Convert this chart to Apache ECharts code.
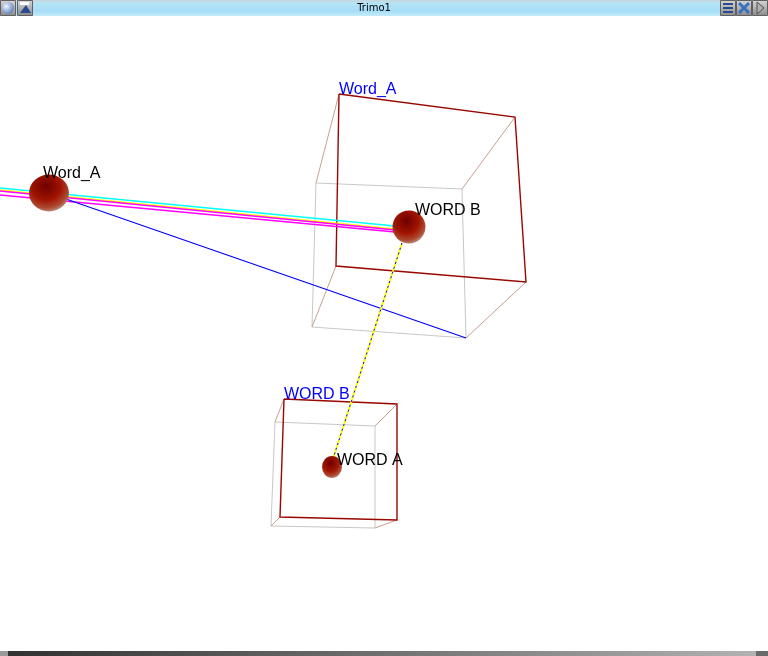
<!DOCTYPE html>
<html>
<head>
<meta charset="utf-8">
<script src="https://cdn.jsdelivr.net/npm/echarts@6/dist/echarts.min.js"></script>
<style>
  html, body { margin: 0; padding: 0; background: #fff; }
  #main { width: 768px; height: 656px; }
</style>
</head>
<body>
<div id="main"></div>
<script>
// scene projected to screen units (x right, y down)
const bigCubeBack = [[339, 94], [515, 117], [526, 282], [336, 266]];
const bigCubeFront = [[316, 183], [462, 189], [466, 338], [312, 327]];
const smallCubeBack = [[284, 399], [397, 404], [397, 520], [280, 517]];
const smallCubeFront = [[275, 422], [375, 426], [375, 528], [271, 526]];

const sphereNames = ['Word_A', 'WORD B', 'WORD A'];
const sphereX = [49, 409, 332];
const sphereY = [193, 227, 467];

const cubeNames = ['Word_A', 'WORD B'];

// links between the nodes
const linkCyan = [[0, 188], [395, 226]];
const linkYellow = [[0, 190], [395, 229]];
const linkMagenta1 = [[0, 191], [395, 230]];
const linkMagenta2 = [[0, 195], [395, 232]];
const linkBlue = [[66, 199], [466, 338]];
const linkDown = [[402, 243], [332, 462]];

const sphereStyle = [
  { size: [40, 37], offset: [-6, -19] },
  { size: [33, 33], offset: [6, -16] },
  { size: [20, 22], offset: [5, -6] }
];

const chart = echarts.init(document.getElementById('main'), null, { renderer: 'canvas' });

function loop(pts) {
  return { coords: pts.concat([pts[0]]) };
}
function connectors(back, front) {
  return back.map((p, i) => ({ coords: [p, front[i]] }));
}
function segLines(name, data, color, width, z, dash) {
  return {
    name: name,
    type: 'lines',
    coordinateSystem: 'cartesian2d',
    polyline: true,
    silent: true,
    z: z,
    lineStyle: { color: color, width: width, opacity: 1, type: dash || 'solid', cap: 'butt' },
    data: data
  };
}

const sphereGradient = new echarts.graphic.RadialGradient(0.42, 0.32, 0.75, [
  { offset: 0, color: '#6e0000' },
  { offset: 0.5, color: '#a01400' },
  { offset: 0.78, color: '#ad4a32' },
  { offset: 1, color: '#c4aca2' }
]);

const labelFont = {
  fontFamily: 'Liberation Sans, Arial, sans-serif',
  fontSize: 16,
  fontWeight: 'normal',
  textBorderWidth: 0,
  textShadowBlur: 0,
  opacity: 1
};

const series = [
  segLines('bigFront', [loop(bigCubeFront)], '#c8c8c8', 1, 1),
  segLines('smallFront', [loop(smallCubeFront)], '#c8c8c8', 1, 1),
  segLines('bigConn', connectors(bigCubeBack, bigCubeFront), '#c8a090', 1, 1),
  segLines('smallConn', connectors(smallCubeBack, smallCubeFront), '#c8a090', 1, 1),
  segLines('bigBack', [loop(bigCubeBack)], '#980800', 1.4, 2),
  segLines('smallBack', [loop(smallCubeBack)], '#980800', 1.4, 2),
  segLines('cyan', [{ coords: linkCyan }], '#00ffff', 1.6, 3),
  segLines('yellow', [{ coords: linkYellow }], '#ffff00', 1.6, 3),
  segLines('magenta1', [{ coords: linkMagenta1 }], '#ff00ff', 1.6, 3),
  segLines('magenta2', [{ coords: linkMagenta2 }], '#ff00ff', 1.6, 3),
  segLines('blue', [{ coords: linkBlue }], '#0000ff', 1.2, 3),
  segLines('down', [{ coords: linkDown }], '#ffff00', 2, 3),
  segLines('downDash', [{ coords: linkDown }], '#0000ff', 1, 4, [2, 3])
];

sphereNames.forEach((name, i) => {
  series.push({
    name: name,
    type: 'scatter',
    silent: true,
    z: 5,
    symbol: 'circle',
    symbolSize: sphereStyle[i].size,
    itemStyle: { color: sphereGradient, opacity: 1 },
    label: Object.assign({
      show: true,
      position: 'inside',
      align: 'left',
      verticalAlign: 'middle',
      offset: sphereStyle[i].offset,
      formatter: name,
      color: '#000000'
    }, labelFont),
    data: [[sphereX[i], sphereY[i]]]
  });
});

// blue cube labels sit at the back top-left corner
series.push({
  name: 'cubeLabels',
  type: 'scatter',
  silent: true,
  z: 6,
  symbolSize: 0,
  label: Object.assign({
    show: true,
    position: 'inside',
    align: 'left',
    verticalAlign: 'middle',
    offset: [0, -4],
    formatter: p => cubeNames[p.dataIndex],
    color: '#0000ff'
  }, labelFont),
  data: [bigCubeBack[0], smallCubeBack[0]]
});

// window frame decorations
function btn(x, children) {
  return {
    type: 'group', x: x, y: 0, silent: true, z: 12,
    children: [
      { type: 'rect', z: 12, shape: { x: 0.5, y: 0.5, width: 15, height: 15 },
        style: { fill: new echarts.graphic.LinearGradient(0, 0, 0, 1, [
          { offset: 0, color: '#d8d8d8' }, { offset: 1, color: '#8a8a8a' }]), stroke: '#606060', lineWidth: 1 } }
    ].concat(children.map(c => Object.assign({ z: 13 }, c)))
  };
}

const graphic = [
  { type: 'rect', silent: true, z: 10, shape: { x: 0, y: 0, width: 768, height: 16 },
    style: { fill: new echarts.graphic.LinearGradient(0, 0, 0, 1, [
      { offset: 0, color: '#c8d4dc' }, { offset: 0.2, color: '#b4e4f6' },
      { offset: 0.7, color: '#a6def6' }, { offset: 1, color: '#c4ecfa' }]) } },
  btn(0, [
    { type: 'circle', shape: { cx: 8, cy: 8, r: 6 },
      style: { fill: new echarts.graphic.RadialGradient(0.35, 0.35, 0.8, [
        { offset: 0, color: '#f0f6ff' }, { offset: 1, color: '#4a70b0' }]) } }
  ]),
  btn(17, [
    { type: 'polygon', shape: { points: [[3, 13], [9, 5], [14, 13]] }, style: { fill: '#2a4a90' } },
    { type: 'rect', shape: { x: 3, y: 2, width: 9, height: 3 }, style: { fill: '#ffffff' } }
  ]),
  btn(720, [
    { type: 'rect', shape: { x: 3, y: 3, width: 10, height: 2 }, style: { fill: '#2a4a90' } },
    { type: 'rect', shape: { x: 3, y: 7, width: 10, height: 2 }, style: { fill: '#2a4a90' } },
    { type: 'rect', shape: { x: 3, y: 11, width: 10, height: 2 }, style: { fill: '#2a4a90' } }
  ]),
  btn(736, [
    { type: 'line', shape: { x1: 3, y1: 3, x2: 13, y2: 13 }, style: { stroke: '#3a70c0', lineWidth: 3 } },
    { type: 'line', shape: { x1: 13, y1: 3, x2: 3, y2: 13 }, style: { stroke: '#3a70c0', lineWidth: 3 } }
  ]),
  btn(752, [
    { type: 'polygon', shape: { points: [[5, 2], [12, 8], [5, 14]] }, style: { fill: '#b0b0b0', stroke: '#505050', lineWidth: 1 } }
  ]),
  { type: 'text', silent: true, z: 11, x: 374, y: 8,
    style: { text: 'Trimo1', fill: '#000', font: '10px "DejaVu Sans", sans-serif', align: 'center', verticalAlign: 'middle' } },
  { type: 'rect', silent: true, z: 10, shape: { x: 0, y: 651, width: 768, height: 5 },
    style: { fill: new echarts.graphic.LinearGradient(0, 0, 1, 0, [
      { offset: 0, color: '#303030' }, { offset: 0.5, color: '#707070' }, { offset: 1, color: '#b4b4b4' }]) } },
  { type: 'rect', silent: true, z: 11, shape: { x: 0, y: 651, width: 8, height: 5 }, style: { fill: '#9a9a9a' } },
  { type: 'rect', silent: true, z: 11, shape: { x: 756, y: 651, width: 12, height: 5 }, style: { fill: '#6a6a6a' } }
];

const option = {
  backgroundColor: '#ffffff',
  animation: false,
  grid: { left: 0, right: 0, top: 0, bottom: 0 },
  xAxis: { type: 'value', min: 0, max: 768, show: false },
  yAxis: { type: 'value', min: 0, max: 656, inverse: true, show: false },
  graphic: graphic,
  series: series
};

chart.setOption(option);
</script>
</body>
</html>
